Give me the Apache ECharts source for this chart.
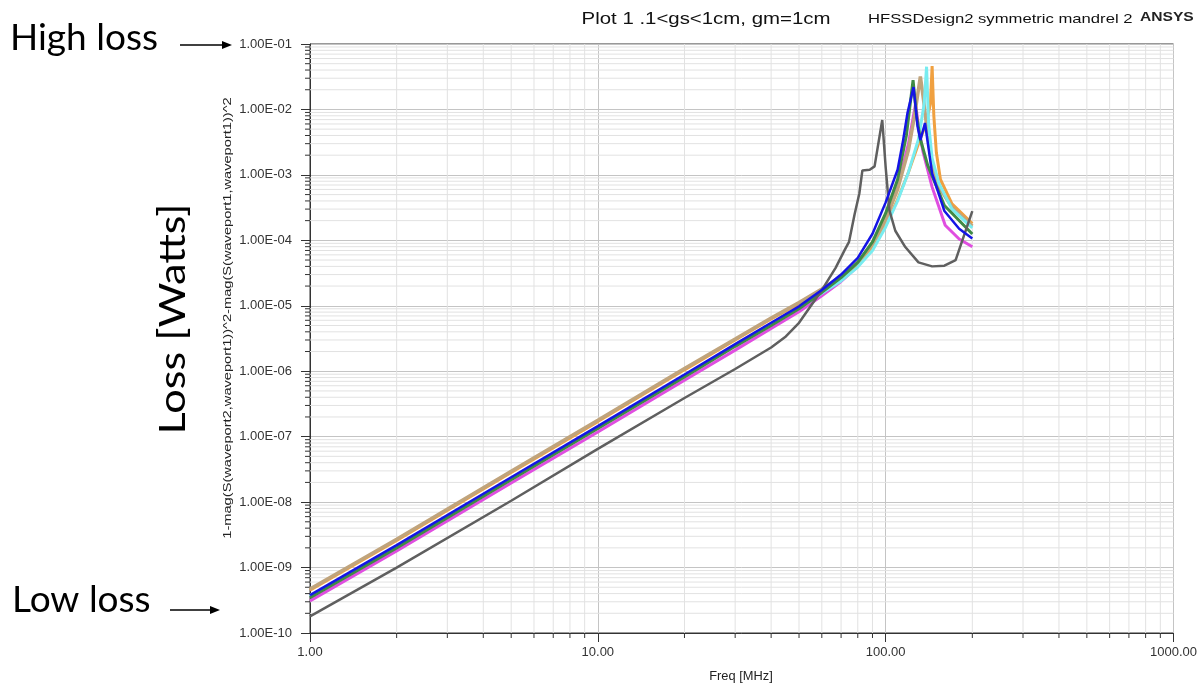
<!DOCTYPE html>
<html>
<head>
<meta charset="utf-8">
<script src="https://cdn.jsdelivr.net/npm/echarts@6/dist/echarts.min.js"></script>
<style>
  html, body { margin: 0; padding: 0; background: #fff; }
  #chart { width: 1200px; height: 686px; }
</style>
</head>
<body>
<div id="chart"></div>
<script>
// axis range
const X_MIN = 1, X_MAX = 1000
const Y_MIN = 1e-10, Y_MAX = 1e-1

// minor grid positions (2..9 in every decade)
const MINOR_FREQ = [2, 3, 4, 5, 6, 7, 8, 9, 20, 30, 40, 50, 60, 70, 80, 90, 200, 300, 400, 500, 600, 700, 800, 900]
const MINOR_LOSS = [
  2e-10, 3e-10, 4e-10, 5e-10, 6e-10, 7e-10, 8e-10, 9e-10,
  2e-9, 3e-9, 4e-9, 5e-9, 6e-9, 7e-9, 8e-9, 9e-9,
  2e-8, 3e-8, 4e-8, 5e-8, 6e-8, 7e-8, 8e-8, 9e-8,
  2e-7, 3e-7, 4e-7, 5e-7, 6e-7, 7e-7, 8e-7, 9e-7,
  2e-6, 3e-6, 4e-6, 5e-6, 6e-6, 7e-6, 8e-6, 9e-6,
  2e-5, 3e-5, 4e-5, 5e-5, 6e-5, 7e-5, 8e-5, 9e-5,
  2e-4, 3e-4, 4e-4, 5e-4, 6e-4, 7e-4, 8e-4, 9e-4,
  2e-3, 3e-3, 4e-3, 5e-3, 6e-3, 7e-3, 8e-3, 9e-3,
  2e-2, 3e-2, 4e-2, 5e-2, 6e-2, 7e-2, 8e-2, 9e-2
]

// [freq MHz, loss W]
const lossTan = [
  [1, 4.7e-10], [2, 2.7e-9], [5, 2.95e-8], [10, 1.78e-7], [20, 1.1e-6], [30, 3.1e-6],
  [40, 6.5e-6], [50, 1.12e-5], [60, 1.8e-5], [70, 2.8e-5], [80, 4.6e-5], [90, 8.8e-5],
  [100, 2.1e-4], [110, 6e-4], [120, 2.4e-3], [126, 8e-3], [132, 3.2e-2], [136, 1.2e-2],
  [140, 4e-3], [145, 1.4e-3], [155, 6e-4], [170, 3.2e-4], [200, 1.65e-4]
]
const lossOrange = [
  [1, 4.5e-10], [2, 2.6e-9], [5, 2.85e-8], [10, 1.7e-7], [20, 1.05e-6], [30, 3.0e-6],
  [40, 6.3e-6], [50, 1.08e-5], [60, 1.75e-5], [70, 2.7e-5], [80, 4.3e-5], [90, 7.8e-5],
  [100, 1.7e-4], [110, 4.2e-4], [120, 1.1e-3], [130, 3e-3], [138, 6e-3], [143, 1.2e-2],
  [145, 4.6e-2], [147, 8e-3], [150, 2.2e-3], [155, 8.5e-4], [170, 3.6e-4], [200, 1.8e-4]
]
const lossCyan = [
  [1, 3.6e-10], [2, 2.1e-9], [5, 2.3e-8], [10, 1.4e-7], [20, 8.6e-7], [30, 2.5e-6],
  [40, 5.2e-6], [50, 9.2e-6], [60, 1.55e-5], [70, 2.4e-5], [80, 3.9e-5], [90, 7e-5],
  [100, 1.6e-4], [110, 4e-4], [120, 1.1e-3], [130, 3.5e-3], [136, 1.2e-2], [138.7, 4.5e-2],
  [141, 6e-3], [145, 1.8e-3], [153, 7.5e-4], [170, 3e-4], [200, 1.55e-4]
]
const lossGreen = [
  [1, 3.45e-10], [2, 2.0e-9], [5, 2.2e-8], [10, 1.33e-7], [20, 8.2e-7], [30, 2.4e-6],
  [40, 5.0e-6], [50, 9e-6], [60, 1.6e-5], [70, 2.7e-5], [80, 4.6e-5], [90, 9.5e-5],
  [100, 2.6e-4], [110, 8.5e-4], [118, 4e-3], [124.5, 2.8e-2], [128, 8e-3], [132, 3.5e-3],
  [140, 1.4e-3], [160, 3.4e-4], [200, 1.25e-4]
]
const lossMagenta = [
  [1, 3.1e-10], [2, 1.8e-9], [5, 1.96e-8], [10, 1.18e-7], [20, 7.3e-7], [30, 2.1e-6],
  [40, 4.5e-6], [50, 8.1e-6], [60, 1.42e-5], [70, 2.35e-5], [80, 4.0e-5], [90, 7.8e-5],
  [100, 2e-4], [110, 6.5e-4], [120, 3e-3], [127, 1.2e-2], [131, 4.5e-3], [135, 2.2e-3],
  [145, 6.5e-4], [161, 1.7e-4], [180, 1.05e-4], [200, 8e-5]
]
const lossGray = [
  [1, 1.8e-10], [2, 1.0e-9], [5, 1.05e-8], [10, 6.5e-8], [20, 3.9e-7], [30, 1.08e-6],
  [40, 2.3e-6], [45, 3.4e-6], [50, 5.5e-6], [55, 1.0e-5], [60, 1.74e-5], [67, 3.8e-5],
  [72, 7.1e-5], [74.6, 9.5e-5], [78, 2.5e-4], [81, 5.2e-4], [83, 1.17e-3], [88, 1.2e-3],
  [91.5, 1.35e-3], [97.3, 6.9e-3], [100, 1.3e-3], [103, 2.9e-4], [108, 1.4e-4], [117, 7.9e-5],
  [130, 4.6e-5], [145, 4e-5], [160, 4.1e-5], [175, 5e-5], [200, 2.8e-4]
]
const lossBlue = [
  [1, 3.8e-10], [2, 2.2e-9], [5, 2.4e-8], [10, 1.45e-7], [20, 8.9e-7], [30, 2.6e-6],
  [40, 5.5e-6], [50, 9.8e-6], [60, 1.74e-5], [70, 3.0e-5], [80, 5.4e-5], [90, 1.26e-4],
  [100, 3.8e-4], [110, 1.2e-3], [115, 3.4e-3], [119, 8.7e-3], [125, 2.2e-2], [129, 5.6e-3],
  [132, 3.4e-3], [137, 6.2e-3], [141, 2.5e-3], [145, 1.05e-3], [160, 2.8e-4], [180, 1.5e-4],
  [200, 1.07e-4]
]

const TRACES = [
  { data: lossMagenta, color: '#e04ee0', width: 3 },
  { data: lossOrange, color: '#f0a040', width: 3 },
  { data: lossTan, color: '#c0a47c', width: 3.5 },
  { data: lossCyan, color: '#78ecf0', width: 3 },
  { data: lossGreen, color: '#3f8a45', width: 3 },
  { data: lossGray, color: '#5f5f5f', width: 2.5 },
  { data: lossBlue, color: '#1414e6', width: 2.5 }
]

const FONT = '"Liberation Sans", Arial, sans-serif'
const BIG = 'Lato, "Open Sans", sans-serif'

// minor grid line + outside tick on the x axis
function xMinorItem(params, api) {
  const p = api.coord([api.value(0), Y_MIN])
  const cs = params.coordSys
  return {
    type: 'group',
    children: [
      { type: 'line', shape: { x1: p[0], y1: cs.y, x2: p[0], y2: cs.y + cs.height }, style: { stroke: '#e2e2e2', lineWidth: 1 } },
      { type: 'line', shape: { x1: p[0], y1: cs.y + cs.height, x2: p[0], y2: cs.y + cs.height + 5 }, style: { stroke: '#333', lineWidth: 1 } }
    ]
  }
}

// minor grid line + outside tick on the y axis
function yMinorItem(params, api) {
  const p = api.coord([X_MIN, api.value(1)])
  const cs = params.coordSys
  return {
    type: 'group',
    children: [
      { type: 'line', shape: { x1: cs.x, y1: p[1], x2: cs.x + cs.width, y2: p[1] }, style: { stroke: '#e2e2e2', lineWidth: 1 } },
      { type: 'line', shape: { x1: cs.x - 5, y1: p[1], x2: cs.x, y2: p[1] }, style: { stroke: '#333', lineWidth: 1 } }
    ]
  }
}

function expLabel(v) {
  const e = Math.round(Math.log10(v))
  const s = String(Math.abs(e)).padStart(2, '0')
  return '1.00E' + (e < 0 ? '-' : '+') + s
}

const chart = echarts.init(document.getElementById('chart'))

const option = {
  backgroundColor: '#ffffff',
  animation: false,
  grid: {
    left: 310, right: 25, top: 44, bottom: 53,
    show: true, borderColor: '#333', borderWidth: 1
  },
  xAxis: {
    type: 'log',
    logBase: 10,
    min: X_MIN,
    max: X_MAX,
    axisLine: { lineStyle: { color: '#333' } },
    axisTick: { length: 9, lineStyle: { color: '#333' } },
    axisLabel: { color: '#333', fontFamily: FONT, fontSize: 13, margin: 13, formatter: v => v.toFixed(2) },
    splitLine: { show: true, lineStyle: { color: '#c4c4c4' } }
  },
  yAxis: {
    type: 'log',
    logBase: 10,
    min: Y_MIN,
    max: Y_MAX,
    splitNumber: 9,
    axisLine: { show: true, lineStyle: { color: '#333' } },
    axisTick: { show: true, length: 9, lineStyle: { color: '#333' } },
    axisLabel: { color: '#333', fontFamily: FONT, fontSize: 13, margin: 18, formatter: expLabel },
    splitLine: { show: true, lineStyle: { color: '#c4c4c4' } }
  },
  graphic: [
    // header
    { type: 'text', x: 706, y: 19, scaleX: 1.2,
      style: { text: 'Plot 1 .1<gs<1cm, gm=1cm', font: '17px ' + FONT, fill: '#111', align: 'center', verticalAlign: 'middle' } },
    { type: 'text', x: 868, y: 19, scaleX: 1.28,
      style: { text: 'HFSSDesign2 symmetric mandrel 2', font: '13px ' + FONT, fill: '#111', verticalAlign: 'middle' } },
    { type: 'text', x: 1140, y: 18, scaleX: 1.3,
      style: { text: 'ANSYS', font: 'bold 12px ' + FONT, fill: '#222', verticalAlign: 'middle' } },
    // annotations
    { type: 'text', left: 10, top: 20, style: { text: 'High loss', font: '37px ' + BIG, fill: '#000' } },
    { type: 'line', shape: { x1: 180, y1: 45, x2: 224, y2: 45 }, style: { stroke: '#000', lineWidth: 1.5 } },
    { type: 'polygon', shape: { points: [[232, 45], [222, 41], [222, 49]] }, style: { fill: '#000' } },
    { type: 'text', left: 12, top: 582, style: { text: 'Low loss', font: '37px ' + BIG, fill: '#000' } },
    { type: 'line', shape: { x1: 170, y1: 610, x2: 212, y2: 610 }, style: { stroke: '#000', lineWidth: 1.5 } },
    { type: 'polygon', shape: { points: [[220, 610], [210, 606], [210, 614]] }, style: { fill: '#000' } },
    { type: 'text', x: 173, y: 319, rotation: Math.PI / 2, scaleX: 1.17,
      style: { text: 'Loss [Watts]', font: '37px ' + BIG, fill: '#000', align: 'center', verticalAlign: 'middle' } },
    // axis names
    { type: 'text', x: 228, y: 318, rotation: Math.PI / 2, scaleX: 1.33,
      style: { text: '1-mag(S(waveport2,waveport1))^2-mag(S(waveport1,waveport1))^2', font: '11px ' + FONT, fill: '#222', align: 'center', verticalAlign: 'middle' } },
    { type: 'text', x: 741, y: 677, scaleX: 1.07,
      style: { text: 'Freq [MHz]', font: '12px ' + FONT, fill: '#222', align: 'center', verticalAlign: 'middle' } }
  ],
  series: [
    { type: 'custom', silent: true, z: 1, renderItem: xMinorItem, data: MINOR_FREQ.map(f => [f, Y_MIN]) },
    { type: 'custom', silent: true, z: 1, renderItem: yMinorItem, data: MINOR_LOSS.map(v => [X_MIN, v]) }
  ].concat(TRACES.map(t => ({
    type: 'line',
    z: 3,
    data: t.data,
    showSymbol: false,
    smooth: false,
    lineStyle: { color: t.color, width: t.width },
    itemStyle: { color: t.color }
  })))
}

chart.setOption(option)
</script>
</body>
</html>
